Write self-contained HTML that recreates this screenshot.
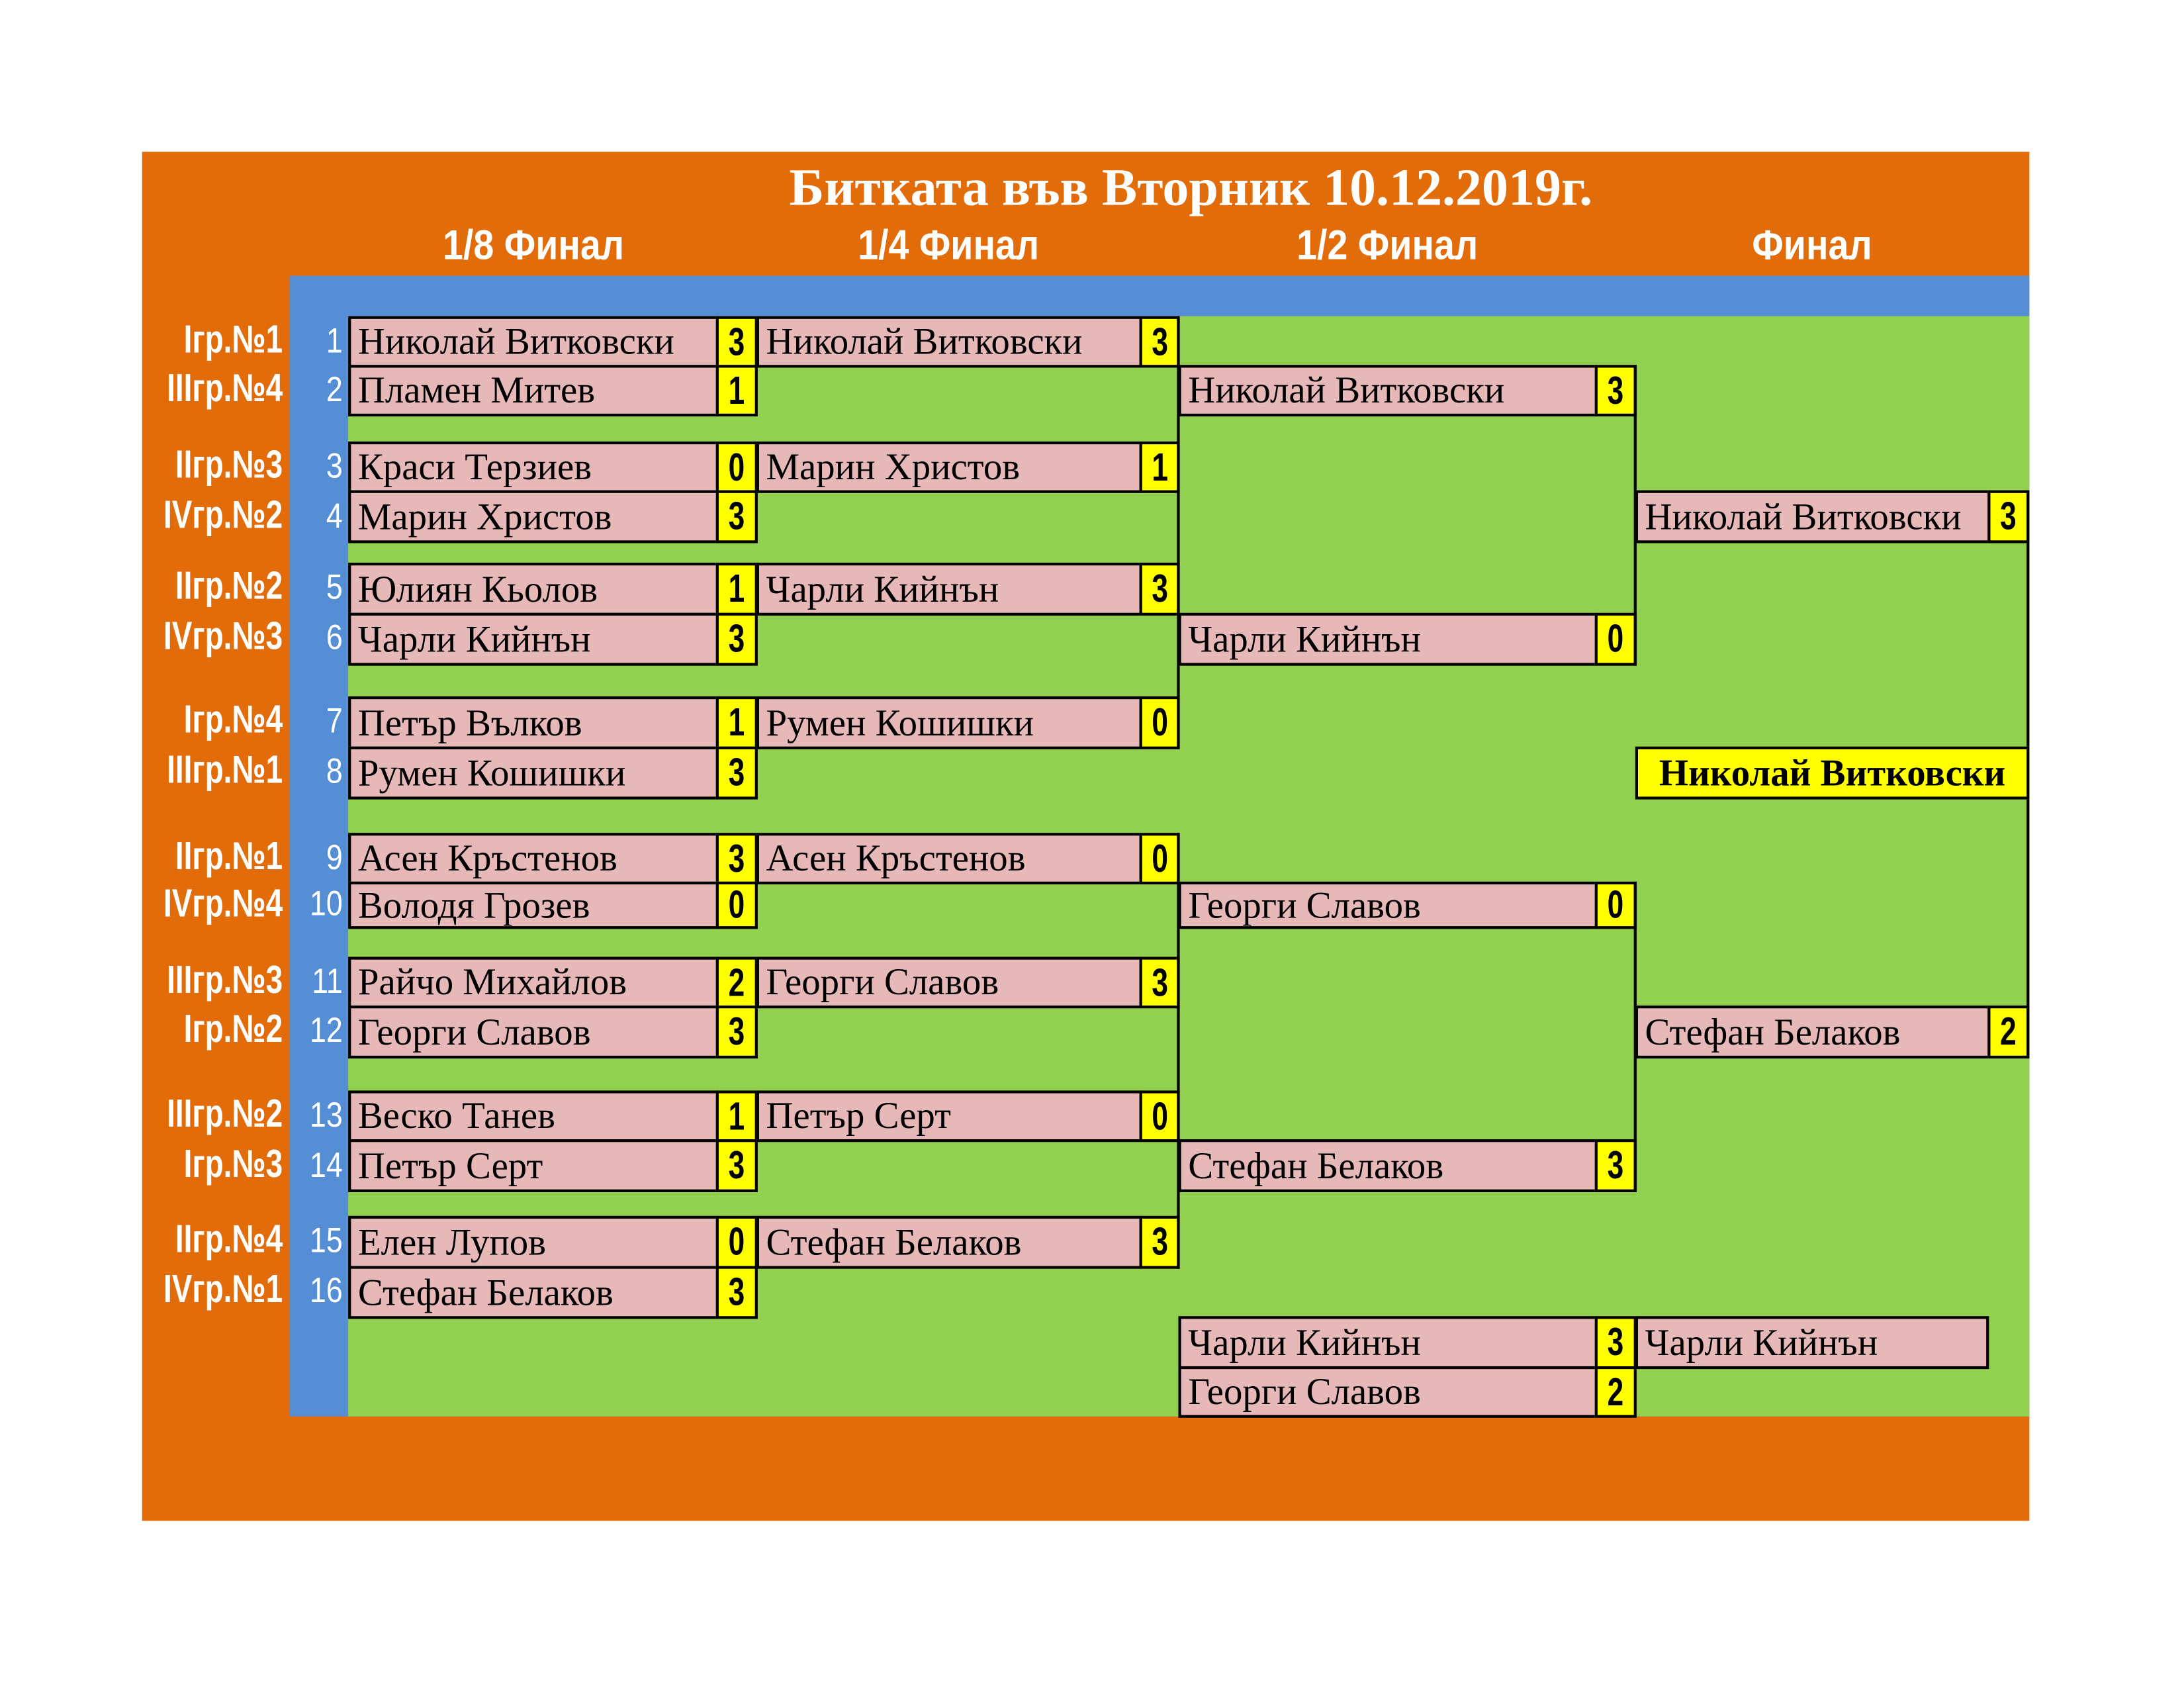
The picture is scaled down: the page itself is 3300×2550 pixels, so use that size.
<!DOCTYPE html>
<html><head><meta charset="utf-8"><style>
html,body{margin:0;padding:0;background:#fff;width:3300px;height:2550px;overflow:hidden}
#w{position:absolute;left:0;top:0;width:1568px;height:1212px;transform:scale(2.10459,2.10396);transform-origin:0 0}
.a{position:absolute;box-sizing:border-box}
.b{position:absolute;box-sizing:border-box;border:2px solid #000;background:#e6b8b7;font:27px "Liberation Serif","Noto Serif CJK SC",serif;padding-left:5px;white-space:nowrap;overflow:hidden;display:flex;align-items:center;color:#000}
.s{position:absolute;box-sizing:border-box;border:2px solid #000;background:#ff0;display:flex;align-items:center;justify-content:center;color:#000;overflow:hidden}
.s span{display:inline-block;font:bold 28px "Liberation Sans",sans-serif;transform:scaleX(0.75)}
.l{position:absolute;left:40px;width:163px;text-align:right;color:#fff;font:bold 28px "Liberation Sans",sans-serif;white-space:nowrap;transform:scaleX(0.78);transform-origin:right center}
.n{position:absolute;left:200px;width:46px;text-align:right;color:#fff;font:25px "Liberation Sans",sans-serif;transform:scaleX(0.85);transform-origin:right center}
.h{position:absolute;color:#fff;font:bold 30px "Liberation Sans",sans-serif;text-align:center;width:300px;top:160px;transform:scaleX(0.88)}
.v{position:absolute;width:2px;background:#000}
</style></head><body><div id="w">
<div class="a" style="left:102px;top:109px;width:1355px;height:983px;background:#e36c0a"></div>
<div class="a" style="left:208px;top:198px;width:1249px;height:819px;background:#558ed5"></div>
<div class="a" style="left:250px;top:227px;width:1207px;height:790px;background:#92d050"></div>
<div class="a" style="left:400px;top:113px;width:910px;text-align:center;color:#fff;font:bold 38px 'Liberation Serif',serif;white-space:nowrap">Битката във Вторник 10.12.2019г.</div>
<div class="h" style="left:233px">1/8 Финал</div>
<div class="h" style="left:531px">1/4 Финал</div>
<div class="h" style="left:846px">1/2 Финал</div>
<div class="h" style="left:1151px">Финал</div>

<div class="l" style="top:228px">Iгр.№1</div><div class="n" style="top:231px">1</div>
<div class="l" style="top:263px">IIIгр.№4</div><div class="n" style="top:266px">2</div>
<div class="l" style="top:318px">IIгр.№3</div><div class="n" style="top:321px">3</div>
<div class="l" style="top:354px">IVгр.№2</div><div class="n" style="top:357px">4</div>
<div class="l" style="top:405px">IIгр.№2</div><div class="n" style="top:408px">5</div>
<div class="l" style="top:441px">IVгр.№3</div><div class="n" style="top:444px">6</div>
<div class="l" style="top:501px">Iгр.№4</div><div class="n" style="top:504px">7</div>
<div class="l" style="top:537px">IIIгр.№1</div><div class="n" style="top:540px">8</div>
<div class="l" style="top:599px">IIгр.№1</div><div class="n" style="top:602px">9</div>
<div class="l" style="top:633px">IVгр.№4</div><div class="n" style="top:635px">10</div>
<div class="l" style="top:688px">IIIгр.№3</div><div class="n" style="top:691px">11</div>
<div class="l" style="top:723px">Iгр.№2</div><div class="n" style="top:726px">12</div>
<div class="l" style="top:784px">IIIгр.№2</div><div class="n" style="top:787px">13</div>
<div class="l" style="top:820px">Iгр.№3</div><div class="n" style="top:823px">14</div>
<div class="l" style="top:874px">IIгр.№4</div><div class="n" style="top:877px">15</div>
<div class="l" style="top:910px">IVгр.№1</div><div class="n" style="top:913px">16</div>

<!-- 1/8 -->
<div class="b" style="left:250px;top:227px;width:266px;height:37px">Николай Витковски</div><div class="s" style="left:514px;top:227px;width:30px;height:37px"><span>3</span></div>
<div class="b" style="left:250px;top:262px;width:266px;height:37px">Пламен Митев</div><div class="s" style="left:514px;top:262px;width:30px;height:37px"><span>1</span></div>
<div class="b" style="left:250px;top:317px;width:266px;height:37px">Краси Терзиев</div><div class="s" style="left:514px;top:317px;width:30px;height:37px"><span>0</span></div>
<div class="b" style="left:250px;top:352px;width:266px;height:38px">Марин Христов</div><div class="s" style="left:514px;top:352px;width:30px;height:38px"><span>3</span></div>
<div class="b" style="left:250px;top:404px;width:266px;height:38px">Юлиян Кьолов</div><div class="s" style="left:514px;top:404px;width:30px;height:38px"><span>1</span></div>
<div class="b" style="left:250px;top:440px;width:266px;height:38px">Чарли Кийнън</div><div class="s" style="left:514px;top:440px;width:30px;height:38px"><span>3</span></div>
<div class="b" style="left:250px;top:500px;width:266px;height:38px">Петър Вълков</div><div class="s" style="left:514px;top:500px;width:30px;height:38px"><span>1</span></div>
<div class="b" style="left:250px;top:536px;width:266px;height:38px">Румен Кошишки</div><div class="s" style="left:514px;top:536px;width:30px;height:38px"><span>3</span></div>
<div class="b" style="left:250px;top:598px;width:266px;height:37px">Асен Кръстенов</div><div class="s" style="left:514px;top:598px;width:30px;height:37px"><span>3</span></div>
<div class="b" style="left:250px;top:633px;width:266px;height:34px">Володя Грозев</div><div class="s" style="left:514px;top:633px;width:30px;height:34px"><span>0</span></div>
<div class="b" style="left:250px;top:687px;width:266px;height:37px">Райчо Михайлов</div><div class="s" style="left:514px;top:687px;width:30px;height:37px"><span>2</span></div>
<div class="b" style="left:250px;top:722px;width:266px;height:38px">Георги Славов</div><div class="s" style="left:514px;top:722px;width:30px;height:38px"><span>3</span></div>
<div class="b" style="left:250px;top:783px;width:266px;height:37px">Веско Танев</div><div class="s" style="left:514px;top:783px;width:30px;height:37px"><span>1</span></div>
<div class="b" style="left:250px;top:818px;width:266px;height:38px">Петър Серт</div><div class="s" style="left:514px;top:818px;width:30px;height:38px"><span>3</span></div>
<div class="b" style="left:250px;top:873px;width:266px;height:38px">Елен Лупов</div><div class="s" style="left:514px;top:873px;width:30px;height:38px"><span>0</span></div>
<div class="b" style="left:250px;top:909px;width:266px;height:38px">Стефан Белаков</div><div class="s" style="left:514px;top:909px;width:30px;height:38px"><span>3</span></div>

<!-- 1/4 -->
<div class="b" style="left:543px;top:227px;width:277px;height:37px">Николай Витковски</div><div class="s" style="left:818px;top:227px;width:29px;height:37px"><span>3</span></div>
<div class="b" style="left:543px;top:317px;width:277px;height:37px">Марин Христов</div><div class="s" style="left:818px;top:317px;width:29px;height:37px"><span>1</span></div>
<div class="b" style="left:543px;top:404px;width:277px;height:38px">Чарли Кийнън</div><div class="s" style="left:818px;top:404px;width:29px;height:38px"><span>3</span></div>
<div class="b" style="left:543px;top:500px;width:277px;height:38px">Румен Кошишки</div><div class="s" style="left:818px;top:500px;width:29px;height:38px"><span>0</span></div>
<div class="b" style="left:543px;top:598px;width:277px;height:37px">Асен Кръстенов</div><div class="s" style="left:818px;top:598px;width:29px;height:37px"><span>0</span></div>
<div class="b" style="left:543px;top:687px;width:277px;height:37px">Георги Славов</div><div class="s" style="left:818px;top:687px;width:29px;height:37px"><span>3</span></div>
<div class="b" style="left:543px;top:783px;width:277px;height:37px">Петър Серт</div><div class="s" style="left:818px;top:783px;width:29px;height:37px"><span>0</span></div>
<div class="b" style="left:543px;top:873px;width:277px;height:38px">Стефан Белаков</div><div class="s" style="left:818px;top:873px;width:29px;height:38px"><span>3</span></div>
<div class="v" style="left:845px;top:227px;height:311px"></div>
<div class="v" style="left:845px;top:598px;height:313px"></div>

<!-- 1/2 -->
<div class="b" style="left:846px;top:262px;width:301px;height:37px">Николай Витковски</div><div class="s" style="left:1145px;top:262px;width:30px;height:37px"><span>3</span></div>
<div class="b" style="left:846px;top:440px;width:301px;height:38px">Чарли Кийнън</div><div class="s" style="left:1145px;top:440px;width:30px;height:38px"><span>0</span></div>
<div class="b" style="left:846px;top:633px;width:301px;height:34px">Георги Славов</div><div class="s" style="left:1145px;top:633px;width:30px;height:34px"><span>0</span></div>
<div class="b" style="left:846px;top:818px;width:301px;height:38px">Стефан Белаков</div><div class="s" style="left:1145px;top:818px;width:30px;height:38px"><span>3</span></div>
<div class="v" style="left:1173px;top:262px;height:216px"></div>
<div class="v" style="left:1173px;top:633px;height:223px"></div>

<!-- Final -->
<div class="b" style="left:1174px;top:352px;width:255px;height:38px">Николай Витковски</div><div class="s" style="left:1427px;top:352px;width:30px;height:38px"><span>3</span></div>
<div class="b" style="left:1174px;top:722px;width:255px;height:38px">Стефан Белаков</div><div class="s" style="left:1427px;top:722px;width:30px;height:38px"><span>2</span></div>
<div class="v" style="left:1455px;top:352px;height:408px"></div>
<div class="b" style="left:1174px;top:536px;width:283px;height:38px;background:#ff0;font-weight:bold;justify-content:center;padding:0">Николай Витковски</div>

<!-- 3rd place -->
<div class="b" style="left:846px;top:945px;width:301px;height:38px">Чарли Кийнън</div><div class="s" style="left:1145px;top:945px;width:30px;height:38px"><span>3</span></div>
<div class="b" style="left:846px;top:981px;width:301px;height:37px">Георги Славов</div><div class="s" style="left:1145px;top:981px;width:30px;height:37px"><span>2</span></div>
<div class="b" style="left:1174px;top:945px;width:254px;height:38px">Чарли Кийнън</div>
</div></body></html>
